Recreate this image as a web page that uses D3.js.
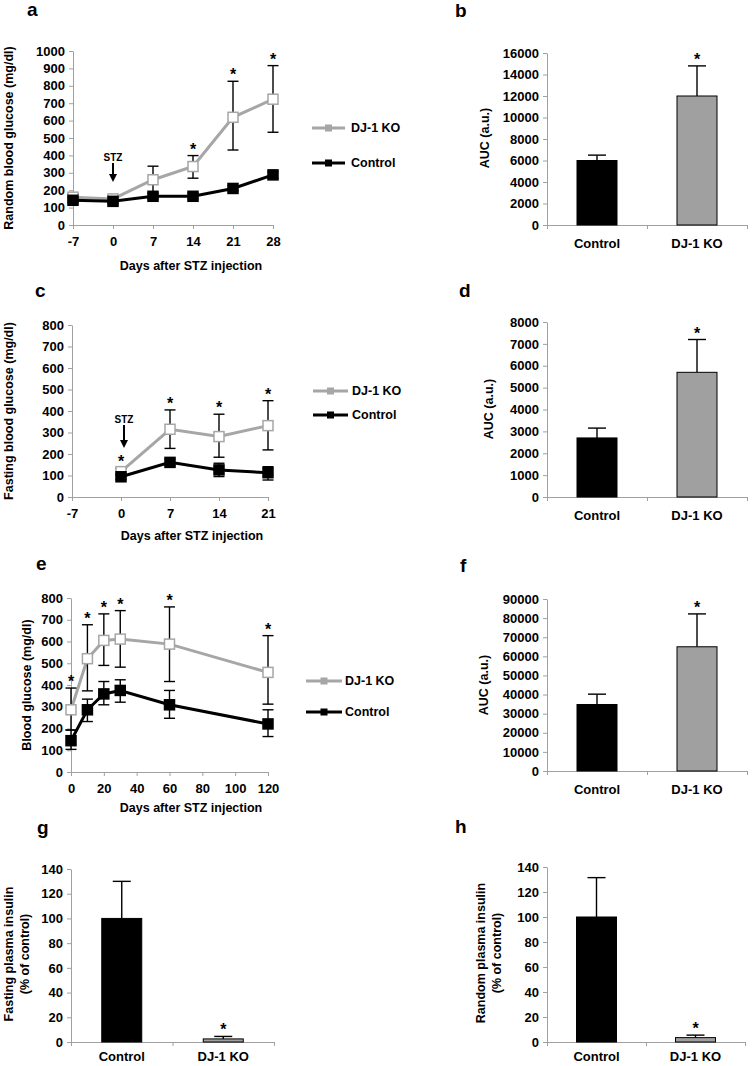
<!DOCTYPE html>
<html><head><meta charset="utf-8">
<script src="https://cdn.jsdelivr.net/npm/d3@7"></script>
<style>
body{margin:0;background:#fff}
text{font-family:"Liberation Sans",Arial,sans-serif;font-weight:bold;fill:#000}
</style>
</head><body><svg id="chart" width="752" height="1066"></svg>
<script>
// ---------------- DATA ----------------
const seriesNames = ["DJ-1 KO", "Control"];
const barCategories = ["Control", "DJ-1 KO"];

// Panel a: random blood glucose
const daysA = [-7, 0, 7, 14, 21, 28];
const koA = [160, 150, 260, 336, 619, 723];
const koA_up = [20, 15, 78, 63, 207, 193];
const koA_dn = [20, 15, 80, 67, 188, 190];
const ctA = [142, 136, 165, 165, 210, 288];
const ctA_up = [15, 12, 18, 18, 15, 17];
const ctA_dn = [15, 12, 15, 15, 15, 20];
const sigA = [0, 0, 0, 1, 1, 1];

// Panel b: AUC
const aucB = [6000, 12000];
const aucB_err = [500, 2800];
const sigB = [0, 1];

// Panel c: fasting blood glucose
const daysC = [-7, 0, 7, 14, 21];
const koC = [null, 118, 315, 281, 332];
const koC_up = [0, 15, 90, 104, 116];
const koC_dn = [0, 15, 89, 96, 113];
const ctC = [null, 94, 161, 126, 113];
const ctC_up = [0, 12, 15, 31, 28];
const ctC_dn = [0, 12, 15, 31, 34];
const sigC = [0, 1, 1, 1, 1];

// Panel d: AUC
const aucD = [2700, 5700];
const aucD_err = [450, 1500];
const sigD = [0, 1];

// Panel e: blood glucose long term
const daysE = [0, 10, 20, 30, 60, 120];
const koE = [286, 521, 605, 611, 588, 458];
const koE_up = [100, 156, 122, 131, 171, 169];
const koE_dn = [93, 148, 115, 129, 172, 146];
const ctE = [144, 286, 359, 375, 309, 221];
const ctE_up = [49, 49, 57, 49, 66, 65];
const ctE_dn = [40, 54, 50, 54, 62, 58];
const sigE = [1, 1, 1, 1, 1, 1];

// Panel f: AUC
const aucF = [34800, 65000];
const aucF_err = [5400, 17200];
const sigF = [0, 1];

// Panel g: fasting plasma insulin
const insG = [100, 2.5];
const insG_err = [30, 2];
const sigG = [0, 1];

// Panel h: random plasma insulin
const insH = [100, 3.5];
const insH_err = [31.5, 2];
const sigH = [0, 1];

// tick labels
const ticksA_y = d3.range(0, 1001, 100);
const ticksC_y = d3.range(0, 801, 100);
const ticksE_y = d3.range(0, 801, 100);
const ticksE_x = [0, 20, 40, 60, 80, 100, 120];
const ticksB_y = d3.range(0, 16001, 2000);
const ticksD_y = d3.range(0, 8001, 1000);
const ticksF_y = d3.range(0, 90001, 10000);
const ticksGH_y = d3.range(0, 141, 20);

// ---------------- STYLE ----------------
const GRAY_LINE = "#a6a6a6";
const GRAY_BAR = "#a0a0a0";
const AXIS = "#a0a0a0";
const plain = d => String(d);
const svg = d3.select("#chart");

function styleAxis(g) {
  g.select(".domain").attr("stroke", AXIS).attr("stroke-width", 1);
  g.selectAll(".tick line").attr("stroke", AXIS).attr("stroke-width", 1);
  g.selectAll("text").attr("font-size", 13).attr("fill", "#000")
    .style("font-family", "Liberation Sans, Arial, sans-serif").style("font-weight", "bold");
}

function panelLabel(t, x, y) {
  svg.append("text").attr("x", x).attr("y", y).attr("font-size", 19).text(t);
}

function yTitle(lines, x, cy) {
  lines.forEach((l, i) => {
    svg.append("text")
      .attr("transform", `translate(${x[i]},${cy}) rotate(-90)`)
      .attr("text-anchor", "middle").attr("dominant-baseline", "central")
      .attr("font-size", 12.5).text(l);
  });
}

function star(x, y) {
  svg.append("text").attr("x", x).attr("y", y).attr("text-anchor", "middle")
    .attr("font-size", 16).text("*");
}

function lineLegend(x0, x1, tx, y1, y2) {
  [[seriesNames[0], GRAY_LINE, y1], [seriesNames[1], "#000", y2]].forEach(([n, c, y]) => {
    svg.append("line").attr("x1", x0).attr("x2", x1).attr("y1", y).attr("y2", y)
      .attr("stroke", c).attr("stroke-width", 3);
    const m = (x0 + x1) / 2;
    svg.append("rect").attr("x", m - 3.5).attr("y", y - 3.5).attr("width", 7).attr("height", 7).attr("fill", c);
    svg.append("text").attr("x", tx).attr("y", y).attr("dominant-baseline", "central")
      .attr("font-size", 12.5).text(n);
  });
}

function linePanel(o) {
  const x = d3.scaleLinear().domain(o.xDomain).range(o.xRange);
  const y = d3.scaleLinear().domain(o.yDomain).range(o.yRange);
  svg.append("g").attr("transform", `translate(0,${o.yRange[0]})`)
    .call(d3.axisBottom(x).tickValues(o.xTicks).tickFormat(plain).tickSize(4).tickSizeOuter(0).tickPadding(8))
    .call(styleAxis);
  svg.append("g").attr("transform", `translate(${o.xRange[0]},0)`)
    .call(d3.axisLeft(y).tickValues(o.yTicks).tickFormat(plain).tickSize(4).tickSizeOuter(0).tickPadding(4))
    .call(styleAxis);
  svg.append("text").attr("x", o.titleX).attr("y", o.titleY).attr("text-anchor", "middle")
    .attr("font-size", 12.5).text("Days after STZ injection");

  const series = [
    { v: o.ko, up: o.koUp, dn: o.koDn, color: GRAY_LINE, fill: "#fff", stroke: GRAY_LINE },
    { v: o.ct, up: o.ctUp, dn: o.ctDn, color: "#000", fill: "#000", stroke: "#000" }
  ];
  series.forEach(s => {
    const pts = o.days.map((d, i) => ({ d, v: s.v[i], u: s.up[i], l: s.dn[i] })).filter(p => p.v != null);
    svg.append("path").datum(pts)
      .attr("d", d3.line().x(p => x(p.d)).y(p => y(p.v)))
      .attr("fill", "none").attr("stroke", s.color).attr("stroke-width", 3);
    const eb = svg.append("g");
    pts.forEach(p => {
      const cx = x(p.d), yt = y(p.v + p.u), yb = y(p.v - p.l);
      eb.append("line").attr("x1", cx).attr("x2", cx).attr("y1", yt).attr("y2", yb).attr("stroke", "#000").attr("stroke-width", 1.4);
      [yt, yb].forEach(yy => eb.append("line").attr("x1", cx - 5.5).attr("x2", cx + 5.5).attr("y1", yy).attr("y2", yy)
        .attr("stroke", "#000").attr("stroke-width", 1.4));
    });
    svg.append("g").selectAll("rect").data(pts).join("rect")
      .attr("x", p => x(p.d) - 5).attr("y", p => y(p.v) - 5).attr("width", 10).attr("height", 10)
      .attr("fill", s.fill).attr("stroke", s.stroke).attr("stroke-width", 1.5);
  });
  o.days.forEach((d, i) => {
    if (o.sig[i]) {
      const top = Math.max(o.ko[i] + o.koUp[i], (o.ct[i] || 0) + o.ctUp[i]);
      star(x(d), y(top) - 1);
    }
  });
  if (o.stz) {
    const ax = x(0) + o.stz.dx;
    svg.append("text").attr("x", ax).attr("y", o.stz.ty).attr("text-anchor", "middle").attr("font-size", 10).text("STZ");
    svg.append("line").attr("x1", ax).attr("x2", ax).attr("y1", o.stz.y0).attr("y2", o.stz.y1 - 6)
      .attr("stroke", "#000").attr("stroke-width", 2);
    svg.append("path").attr("d", `M${ax - 4},${o.stz.y1 - 8}L${ax + 4},${o.stz.y1 - 8}L${ax},${o.stz.y1}Z`).attr("fill", "#000");
  }
}

function barPanel(o) {
  const xb = d3.scaleBand().domain(barCategories).range(o.xRange);
  const xi = d3.scaleLinear().domain([0, 2]).range(o.xRange);
  const y = d3.scaleLinear().domain(o.yDomain).range(o.yRange);
  const bw = 40;
  svg.append("g").attr("transform", `translate(0,${o.yRange[0]})`)
    .call(d3.axisBottom(xi).tickValues([0, 1, 2]).tickFormat("").tickSize(4).tickSizeOuter(0))
    .call(styleAxis);
  svg.append("g").attr("transform", `translate(0,${o.yRange[0]})`)
    .call(d3.axisBottom(xb).tickSize(0).tickPadding(o.labelPad))
    .call(g => g.select(".domain").remove())
    .call(styleAxis);
  svg.append("g").attr("transform", `translate(${o.xRange[0]},0)`)
    .call(d3.axisLeft(y).tickValues(o.yTicks).tickFormat(plain).tickSize(4).tickSizeOuter(0).tickPadding(4))
    .call(styleAxis);
  const fills = ["#000", GRAY_BAR];
  barCategories.forEach((c, i) => {
    const cx = xb(c) + xb.bandwidth() / 2;
    const yt = y(o.vals[i] + o.errs[i]);
    svg.append("line").attr("x1", cx).attr("x2", cx).attr("y1", yt).attr("y2", y(o.vals[i])).attr("stroke", "#000").attr("stroke-width", 1.4);
    svg.append("line").attr("x1", cx - 9).attr("x2", cx + 9).attr("y1", yt).attr("y2", yt).attr("stroke", "#000").attr("stroke-width", 1.4);
    svg.append("rect").attr("x", cx - bw / 2).attr("y", y(o.vals[i])).attr("width", bw)
      .attr("height", y(0) - y(o.vals[i])).attr("fill", fills[i]).attr("stroke", "#000").attr("stroke-width", 1);
    if (o.sig[i]) star(cx, yt - 1);
  });
}

// ---------------- PANELS ----------------
panelLabel("a", 27, 16);
linePanel({
  days: daysA, ko: koA, koUp: koA_up, koDn: koA_dn, ct: ctA, ctUp: ctA_up, ctDn: ctA_dn, sig: sigA,
  xDomain: [-7, 28], xRange: [73, 273], yDomain: [0, 1000], yRange: [225, 51],
  xTicks: daysA, yTicks: ticksA_y, titleX: 191, titleY: 270,
  stz: { dx: 0, ty: 161, y0: 163, y1: 182 }
});
yTitle(["Random blood glucose (mg/dl)"], [9], 138);
lineLegend(312, 345, 351, 128, 163);

panelLabel("b", 455, 17);
barPanel({ vals: aucB, errs: aucB_err, sig: sigB, xRange: [547, 747], yDomain: [0, 16000], yRange: [225, 53], yTicks: ticksB_y, labelPad: 14 });
yTitle(["AUC (a.u.)"], [485], 138);

panelLabel("c", 35, 297);
linePanel({
  days: daysC, ko: koC, koUp: koC_up, koDn: koC_dn, ct: ctC, ctUp: ctC_up, ctDn: ctC_dn, sig: sigC,
  xDomain: [-7, 21], xRange: [72, 268], yDomain: [0, 800], yRange: [497, 325],
  xTicks: daysC, yTicks: ticksC_y, titleX: 192, titleY: 540,
  stz: { dx: 3, ty: 423, y0: 425, y1: 448 }
});
yTitle(["Fasting blood glucose (mg/dl)"], [9], 411);
lineLegend(313, 348, 352, 391, 415);

panelLabel("d", 459, 297);
barPanel({ vals: aucD, errs: aucD_err, sig: sigD, xRange: [547, 747], yDomain: [0, 8000], yRange: [497, 322], yTicks: ticksD_y, labelPad: 14 });
yTitle(["AUC (a.u.)"], [489], 409);

panelLabel("e", 36, 570);
linePanel({
  days: daysE, ko: koE, koUp: koE_up, koDn: koE_dn, ct: ctE, ctUp: ctE_up, ctDn: ctE_dn, sig: sigE,
  xDomain: [0, 120], xRange: [71, 268], yDomain: [0, 800], yRange: [772, 598],
  xTicks: ticksE_x, yTicks: ticksE_y, titleX: 191, titleY: 812
});
yTitle(["Blood glucose (mg/dl)"], [27], 685);
lineLegend(306, 342, 345, 681, 712);

panelLabel("f", 460, 572);
barPanel({ vals: aucF, errs: aucF_err, sig: sigF, xRange: [547, 747], yDomain: [0, 90000], yRange: [771, 599], yTicks: ticksF_y, labelPad: 14 });
yTitle(["AUC (a.u.)"], [484], 685);

panelLabel("g", 37, 834);
barPanel({ vals: insG, errs: insG_err, sig: sigG, xRange: [71, 274], yDomain: [0, 140], yRange: [1042, 869], yTicks: ticksGH_y, labelPad: 10 });
yTitle(["Fasting plasma insulin", "(% of control)"], [9, 25], 954);

panelLabel("h", 455, 833);
barPanel({ vals: insH, errs: insH_err, sig: sigH, xRange: [547, 745], yDomain: [0, 140], yRange: [1042, 867], yTicks: ticksGH_y, labelPad: 10 });
yTitle(["Random plasma insulin", "(% of control)"], [481, 497], 953);
</script>
</body></html>
